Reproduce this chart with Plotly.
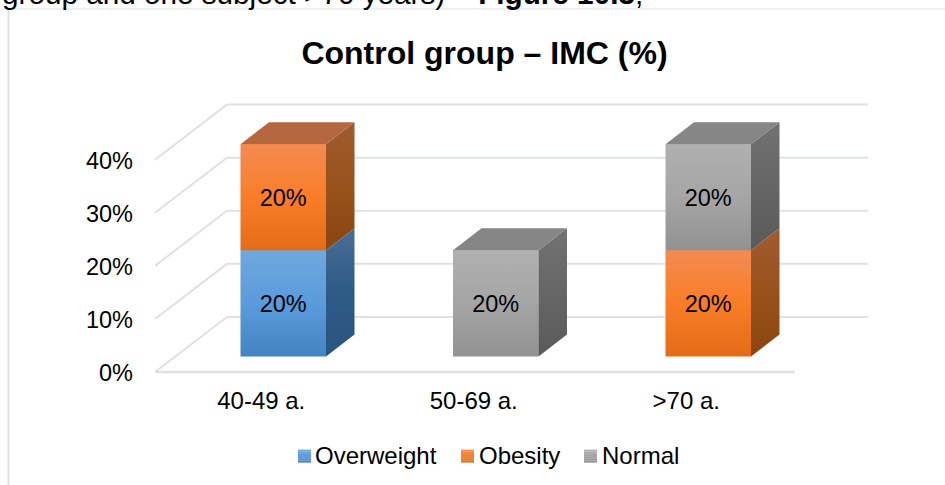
import plotly.graph_objects as go

# ---- data -------------------------------------------------------------
categories = ["40-49 a.", "50-69 a.", ">70 a."]
overweight = [20, 0, 0]
obesity = [20, 0, 20]
normal = [0, 20, 20]
tick_values = [0, 10, 20, 30, 40]
tick_labels = ["0%", "10%", "20%", "30%", "40%"]
title_text = "Control group – IMC (%)"
cropped_line = "group and one subject >70 years) – <b>Figure 10.3</b>;"

# ---- layout constants --------------------------------------------------
W, H = 945, 485
L, R = 155, 868                  # plot area edges in px
FLOOR = 372                      # px position of the value 0
B = FLOOR + 4                    # plot area bottom, a little below the floor
PX_PER_PCT = 5.3
PX_PER_CAT = 212.5
Y_MAX = 52
TOP = FLOOR - Y_MAX * PX_PER_PCT
X_MIN = -0.5
X_MAX = X_MIN + (R - L) / PX_PER_CAT

dx = lambda px: px / PX_PER_CAT
dy = lambda px: px / PX_PER_PCT

WALL_DX, WALL_DY = dx(72), dy(55)       # floor depth
BAR_DX, BAR_DY = dx(22), dy(15.5)       # position of bar front on the floor
SIDE_DX, SIDE_DY = dx(28.5), dy(22)     # depth of the bar itself
BAR_W = dx(85.5)
FLOOR_END = X_MIN + dx(640)

FONT = "Liberation Sans, Arial, sans-serif"
GRID = "#dfe1e6"

styles = {
    "Overweight": dict(
        mid="#5b9bd5",
        front=["#6fa8dc", "#5a9bdc", "#4384c4"],
        side=["#4a6f96", "#2e5a88", "#2a5580"],
        top="#41719c",
    ),
    "Obesity": dict(
        mid="#f47b20",
        front=["#f48b52", "#f97d28", "#e46c18"],
        side=["#a05a30", "#98521c", "#8a4510"],
        top="#b56840",
    ),
    "Normal": dict(
        mid="#a5a5a5",
        front=["#b0b0b0", "#a5a5a5", "#929292"],
        side=["#727272", "#666666", "#5a5a5a"],
        top="#868686",
    ),
}
series = {"Overweight": overweight, "Obesity": obesity, "Normal": normal}
# legend: swatch left edge and text left edge in px
legend_pos = {"Overweight": (298, 315), "Obesity": (461, 479), "Normal": (584, 602)}


def scale(colors):
    n = len(colors) - 1
    return [[i / n, c] for i, c in enumerate(colors)]


def lerp(c0, c1, t):
    a = [int(c0[k:k + 2], 16) for k in (1, 3, 5)]
    b = [int(c1[k:k + 2], 16) for k in (1, 3, 5)]
    return "#" + "".join(f"{round(p + (q - p) * t):02x}" for p, q in zip(a, b))


fig = go.Figure()

# ---- floor, wall grid --------------------------------------------------
for v in tick_values:
    fig.add_trace(go.Scatter(
        x=[X_MIN, X_MIN + WALL_DX, X_MAX],
        y=[v, v + WALL_DY, v + WALL_DY],
        mode="lines", line=dict(color=GRID, width=2),
        hoverinfo="skip", showlegend=False, cliponaxis=False,
    ))
fig.add_trace(go.Scatter(
    x=[X_MIN, FLOOR_END], y=[0, 0], mode="lines",
    line=dict(color=GRID, width=2.5),
    hoverinfo="skip", showlegend=False, cliponaxis=False,
))

# ---- bars --------------------------------------------------------------
label_x, label_y, label_text = [], [], []
base_so_far = [BAR_DY] * len(categories)
faces = []
for name, values in series.items():
    st = styles[name]
    bases = list(base_so_far)
    fig.add_trace(go.Bar(
        name=name,
        x=[i + BAR_DX for i in range(len(categories))],
        y=values, base=bases, width=BAR_W,
        marker=dict(color=st["mid"], line=dict(width=0)),
        hoverinfo="skip", showlegend=False,
    ))
    for i, v in enumerate(values):
        if v:
            faces.append((i, bases[i], v, st))
            label_x.append(i + BAR_DX)
            label_y.append(bases[i] + v / 2 - dy(3))
            label_text.append(f"{v}%")
        base_so_far[i] += v

for i, b0, v, st in faces:
    x0 = i + BAR_DX - BAR_W / 2
    x1 = x0 + BAR_W
    b1 = b0 + v
    common = dict(mode="lines", line=dict(width=0), fill="toself",
                  hoverinfo="skip", showlegend=False)
    # side face
    fig.add_trace(go.Scatter(
        x=[x1, x1 + SIDE_DX, x1 + SIDE_DX, x1, x1],
        y=[b0, b0 + SIDE_DY, b1 + SIDE_DY, b1, b0],
        fillgradient=dict(type="vertical", colorscale=scale(st["side"][::-1])),
        **common,
    ))
    # top face: only visible on the highest segment of the stack
    if abs(b1 - base_so_far[i]) < 1e-9:
        fig.add_trace(go.Scatter(
            x=[x0, x1, x1 + SIDE_DX, x0 + SIDE_DX, x0],
            y=[b1, b1, b1 + SIDE_DY, b1 + SIDE_DY, b1],
            fillcolor=st["top"], **common,
        ))
    # front face
    fig.add_trace(go.Scatter(
        x=[x0, x1, x1, x0, x0],
        y=[b0, b0, b1, b1, b0],
        fillgradient=dict(type="vertical", colorscale=scale(st["front"][::-1])),
        **common,
    ))

fig.add_trace(go.Scatter(
    x=label_x, y=label_y, text=label_text, mode="text",
    textfont=dict(family=FONT, size=23.5, color="#000000"),
    hoverinfo="skip", showlegend=False,
))


# ---- layout ------------------------------------------------------------
def paper_x(p):
    return (p - L) / (R - L)


def paper_y(p):
    return (B - p) / (B - TOP)


annotations = [dict(
    text=cropped_line, xref="paper", yref="paper", showarrow=False,
    x=paper_x(0), xanchor="left", y=paper_y(-6), yanchor="middle", align="left",
    font=dict(family=FONT, size=29.7, color="#000000"),
)]
shapes = [
    dict(type="line", xref="paper", yref="paper", layer="below",
         x0=paper_x(8.5), x1=paper_x(945), y0=paper_y(9.5), y1=paper_y(9.5),
         line=dict(color="#dde0e8", width=1)),
    dict(type="line", xref="paper", yref="paper", layer="below",
         x0=paper_x(8.5), x1=paper_x(8.5), y0=paper_y(9.5), y1=paper_y(485),
         line=dict(color="#dde0e8", width=2)),
]

# legend drawn by hand: the swatch sits tight against its label
SWATCH, SWATCH_Y, SLICES = 13, 449.5, 6
for name, (sx, tx) in legend_pos.items():
    c = styles[name]["front"]
    for k in range(SLICES):
        t = k / (SLICES - 1)
        col = lerp(c[0], c[1], t * 2) if t < 0.5 else lerp(c[1], c[2], t * 2 - 1)
        shapes.append(dict(
            type="rect", xref="paper", yref="paper", layer="above",
            x0=paper_x(sx), x1=paper_x(sx + SWATCH),
            y0=paper_y(SWATCH_Y + SWATCH * k / SLICES),
            y1=paper_y(SWATCH_Y + SWATCH * (k + 1) / SLICES),
            fillcolor=col, line=dict(width=0),
        ))
    annotations.append(dict(
        text=name, xref="paper", yref="paper", showarrow=False,
        x=paper_x(tx), xanchor="left", y=paper_y(455), yanchor="middle",
        borderpad=0, borderwidth=0,
        font=dict(family=FONT, size=24, color="#000000"),
    ))

fig.update_layout(
    width=W, height=H,
    margin=dict(l=L, r=W - R, t=TOP, b=H - B, autoexpand=False),
    paper_bgcolor="white", plot_bgcolor="rgba(0,0,0,0)",
    barmode="overlay", bargap=0, showlegend=False,
    font=dict(family=FONT, size=23.5, color="#000000"),
    title=dict(
        text=f"<b>{title_text}</b>",
        font=dict(family=FONT, size=32, color="#000000"),
        x=484.5 / W, xanchor="center", y=1 - 53 / H, yanchor="middle",
    ),
    xaxis=dict(
        range=[X_MIN, X_MAX], tickmode="array", tickvals=list(range(len(categories))),
        ticktext=categories, showgrid=False, zeroline=False, showline=False,
        ticks="", ticklen=0, ticklabelstandoff=8,
        tickfont=dict(family=FONT, size=24, color="#000000"), fixedrange=True,
    ),
    yaxis=dict(
        range=[-dy(B - FLOOR), Y_MAX], tickmode="array",
        tickvals=[v - dy(1) for v in tick_values],
        ticktext=tick_labels, showgrid=False, zeroline=False, showline=False,
        ticks="", ticklabelstandoff=21,
        tickfont=dict(family=FONT, size=23.5, color="#000000"), fixedrange=True,
    ),
    annotations=annotations,
    shapes=shapes,
)

fig.write_html(
    "out.html",
    config=dict(displayModeBar=False),
    post_script="document.body.style.margin='0';document.body.style.overflow='hidden';",
)
